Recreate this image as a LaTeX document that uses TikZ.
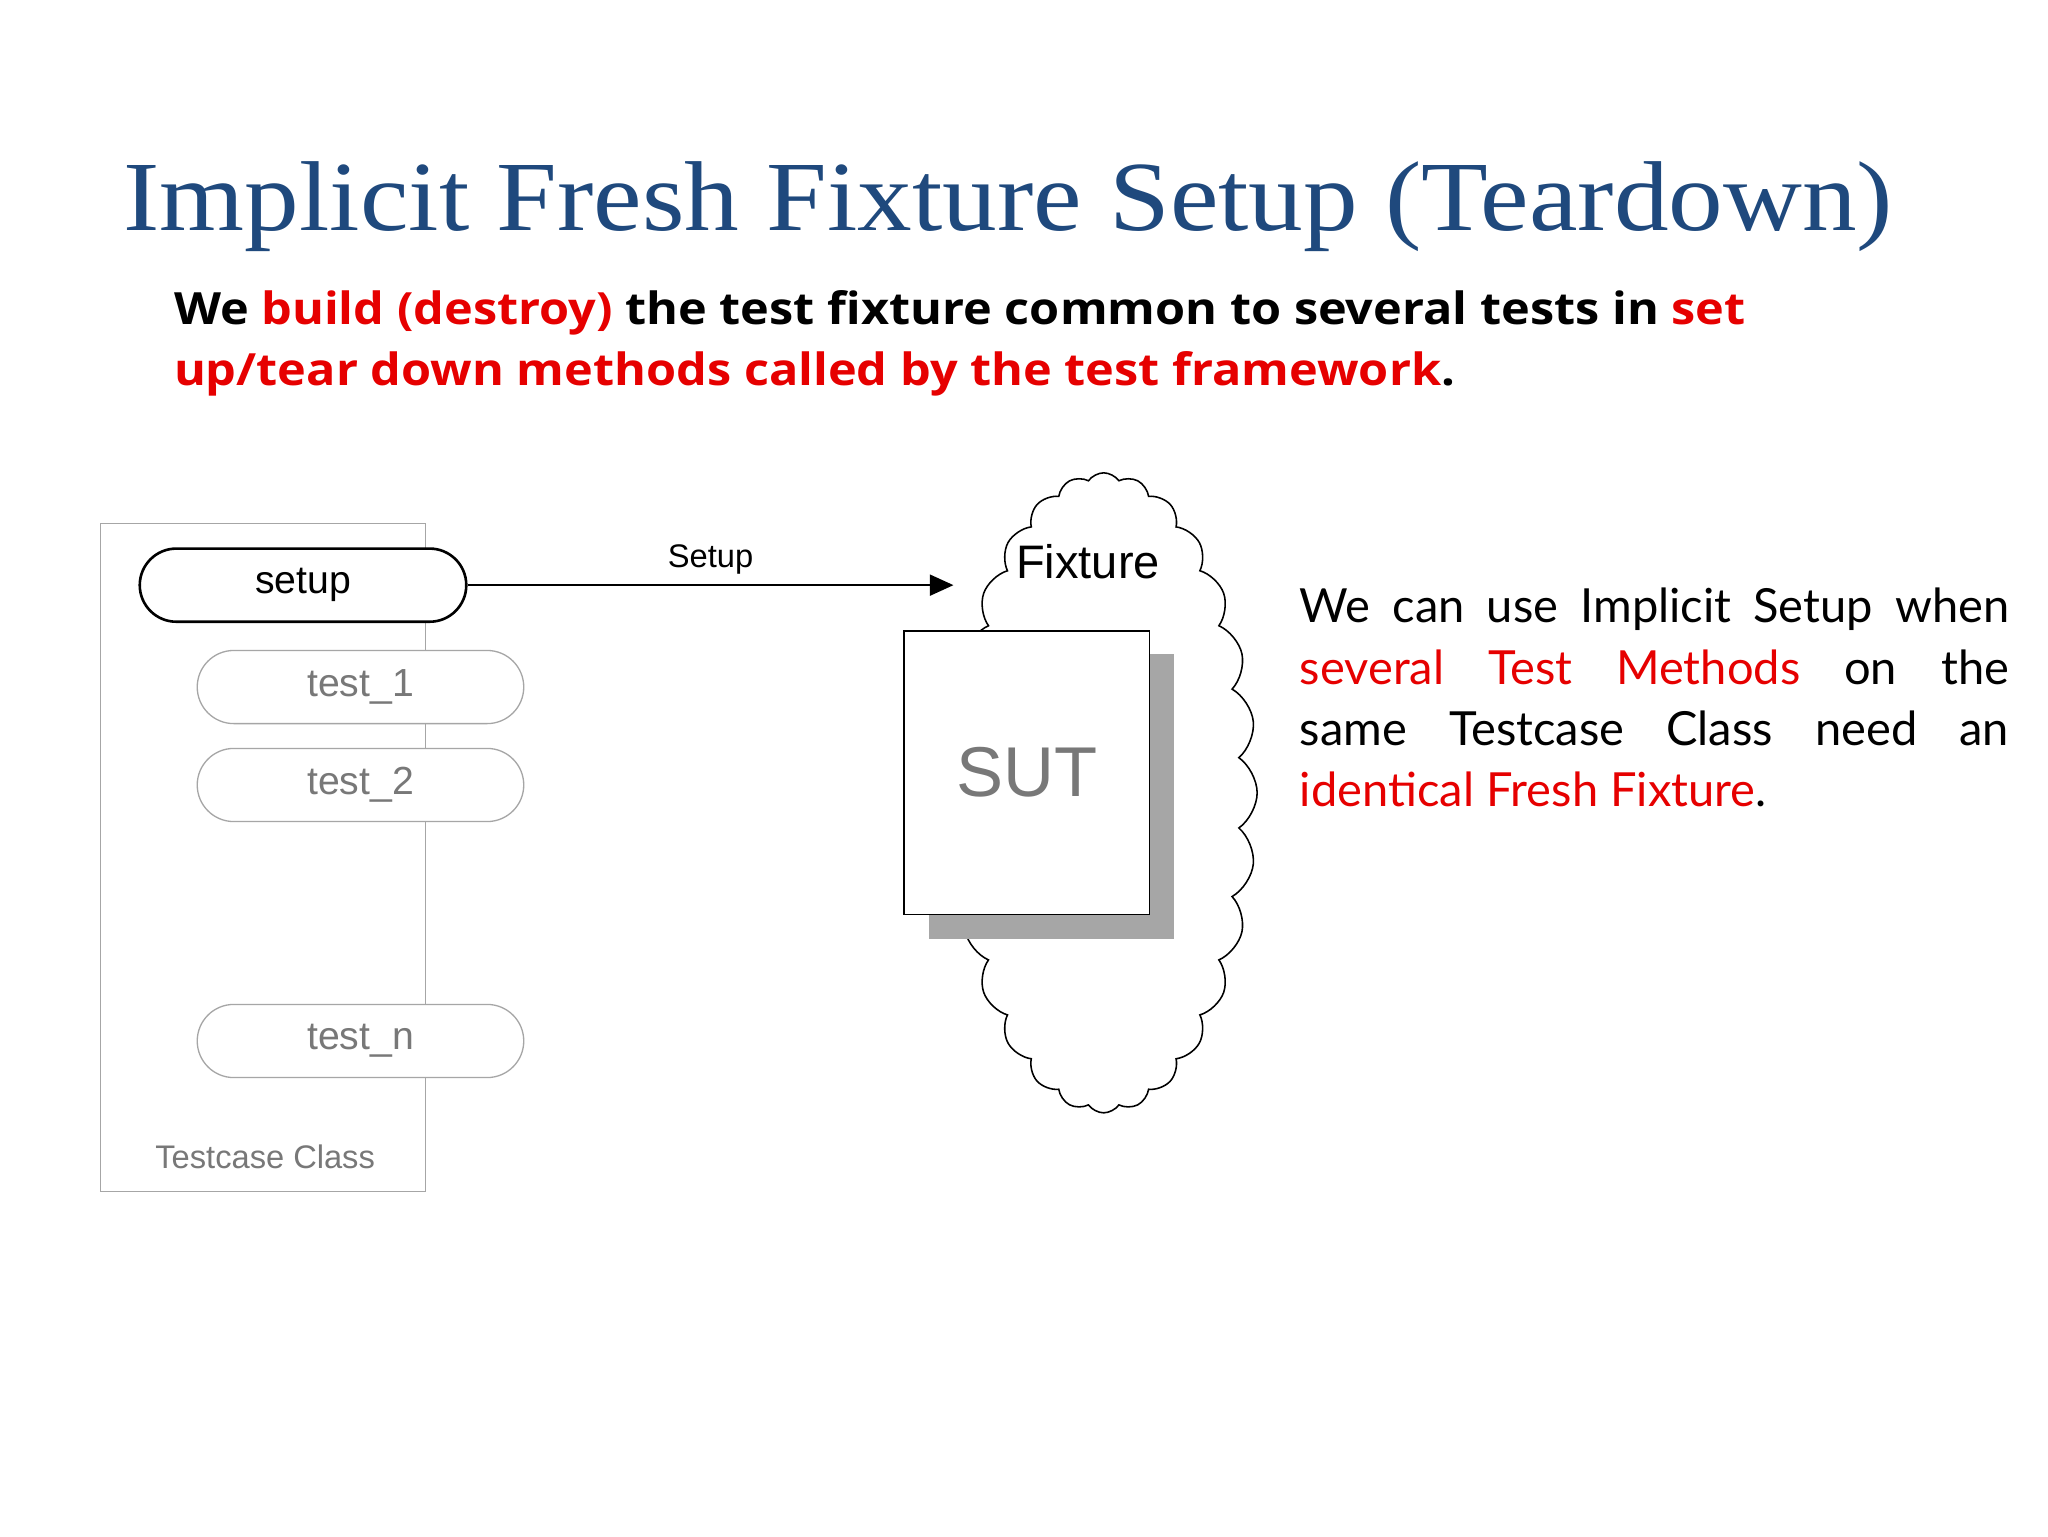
\documentclass[tikz,border=0pt]{standalone}
\usepackage{fontspec}
\setmainfont{Liberation Serif}
\newfontfamily\gill{Lato}
\newfontfamily\gillb{Open Sans}
\newfontfamily\arial{Liberation Sans}
\usetikzlibrary{shapes.symbols,arrows.meta}
\definecolor{ttl}{RGB}{31,73,125}
\definecolor{rd}{RGB}{230,0,0}
\definecolor{gtx}{RGB}{120,120,120}
\tikzset{
  pill/.style={draw=gray!70,rounded corners=28pt,minimum width=250pt,minimum height=56pt,font=\arial\fontsize{30}{30}\selectfont,text=gtx,line width=1pt},
}
\begin{document}
\begin{tikzpicture}[x=1pt,y=-1pt]
\useasboundingbox[fill=white] (0,0) rectangle (1568,1176);
\node[text=ttl,font=\fontsize{76}{76}\selectfont,xscale=1.1] (title) at (772,158) {Implicit Fresh Fixture Setup (Teardown)};
\node[anchor=north west,align=left,font=\gillb\bfseries\fontsize{34}{47}\selectfont,inner sep=0,xscale=1.095] (sub) at (133,222)
 {We \textcolor{rd}{build (destroy)} the test fixture common to several tests in \textcolor{rd}{set}\\
  \textcolor{rd}{up/tear down methods called by the test framework}.};
% testcase class
\draw[gray!70,line width=1pt] (77,401) rectangle (326,912);
\node[text=gtx,font=\arial\fontsize{25}{25}\selectfont] (tcc) at (203,886) {Testcase Class};
\node[pill,fill=white] (t1) at (276,526) {test\_1};
\node[pill,fill=white] (t2) at (276,601) {test\_2};
\node[pill,fill=white] (tn) at (276,797) {test\_n};
\node[pill,draw=black,line width=2pt,text=black,fill=white] (setup) at (232,448) {setup};
% cloud
\node[cloud,draw,line width=1.2pt,cloud puffs=28,cloud puff arc=110,aspect=0.5,minimum width=235pt,minimum height=490pt] (fix) at (845,607) {};
\node[font=\arial\fontsize{36}{36}\selectfont] (fixl) at (833,430) {Fixture};
\fill[gray!70] (711,501) rectangle (899,719);
\node[draw,fill=white,line width=1pt,minimum width=188pt,minimum height=217pt,text=gtx,font=\arial\fontsize{54}{54}\selectfont] (sut) at (786,591.5) {SUT};
\coordinate (arr) at (730,448);
\draw[line width=1.5pt,-{Triangle[length=18pt,width=16pt]}] (setup.east) -- node[above=4pt,font=\arial\fontsize{25}{25}\selectfont] {Setup} (arr);
% paragraph
\node[anchor=north west,inner sep=0,text width=543pt,align=justify,font=\gill\fontsize{36}{47}\selectfont] (para) at (995,450)
 {We can use Implicit Setup when\linebreak \textcolor{rd}{several Test Methods} on the\linebreak same Testcase Class need an\linebreak \textcolor{rd}{identical Fresh Fixture}.};
\end{tikzpicture}
\end{document}
